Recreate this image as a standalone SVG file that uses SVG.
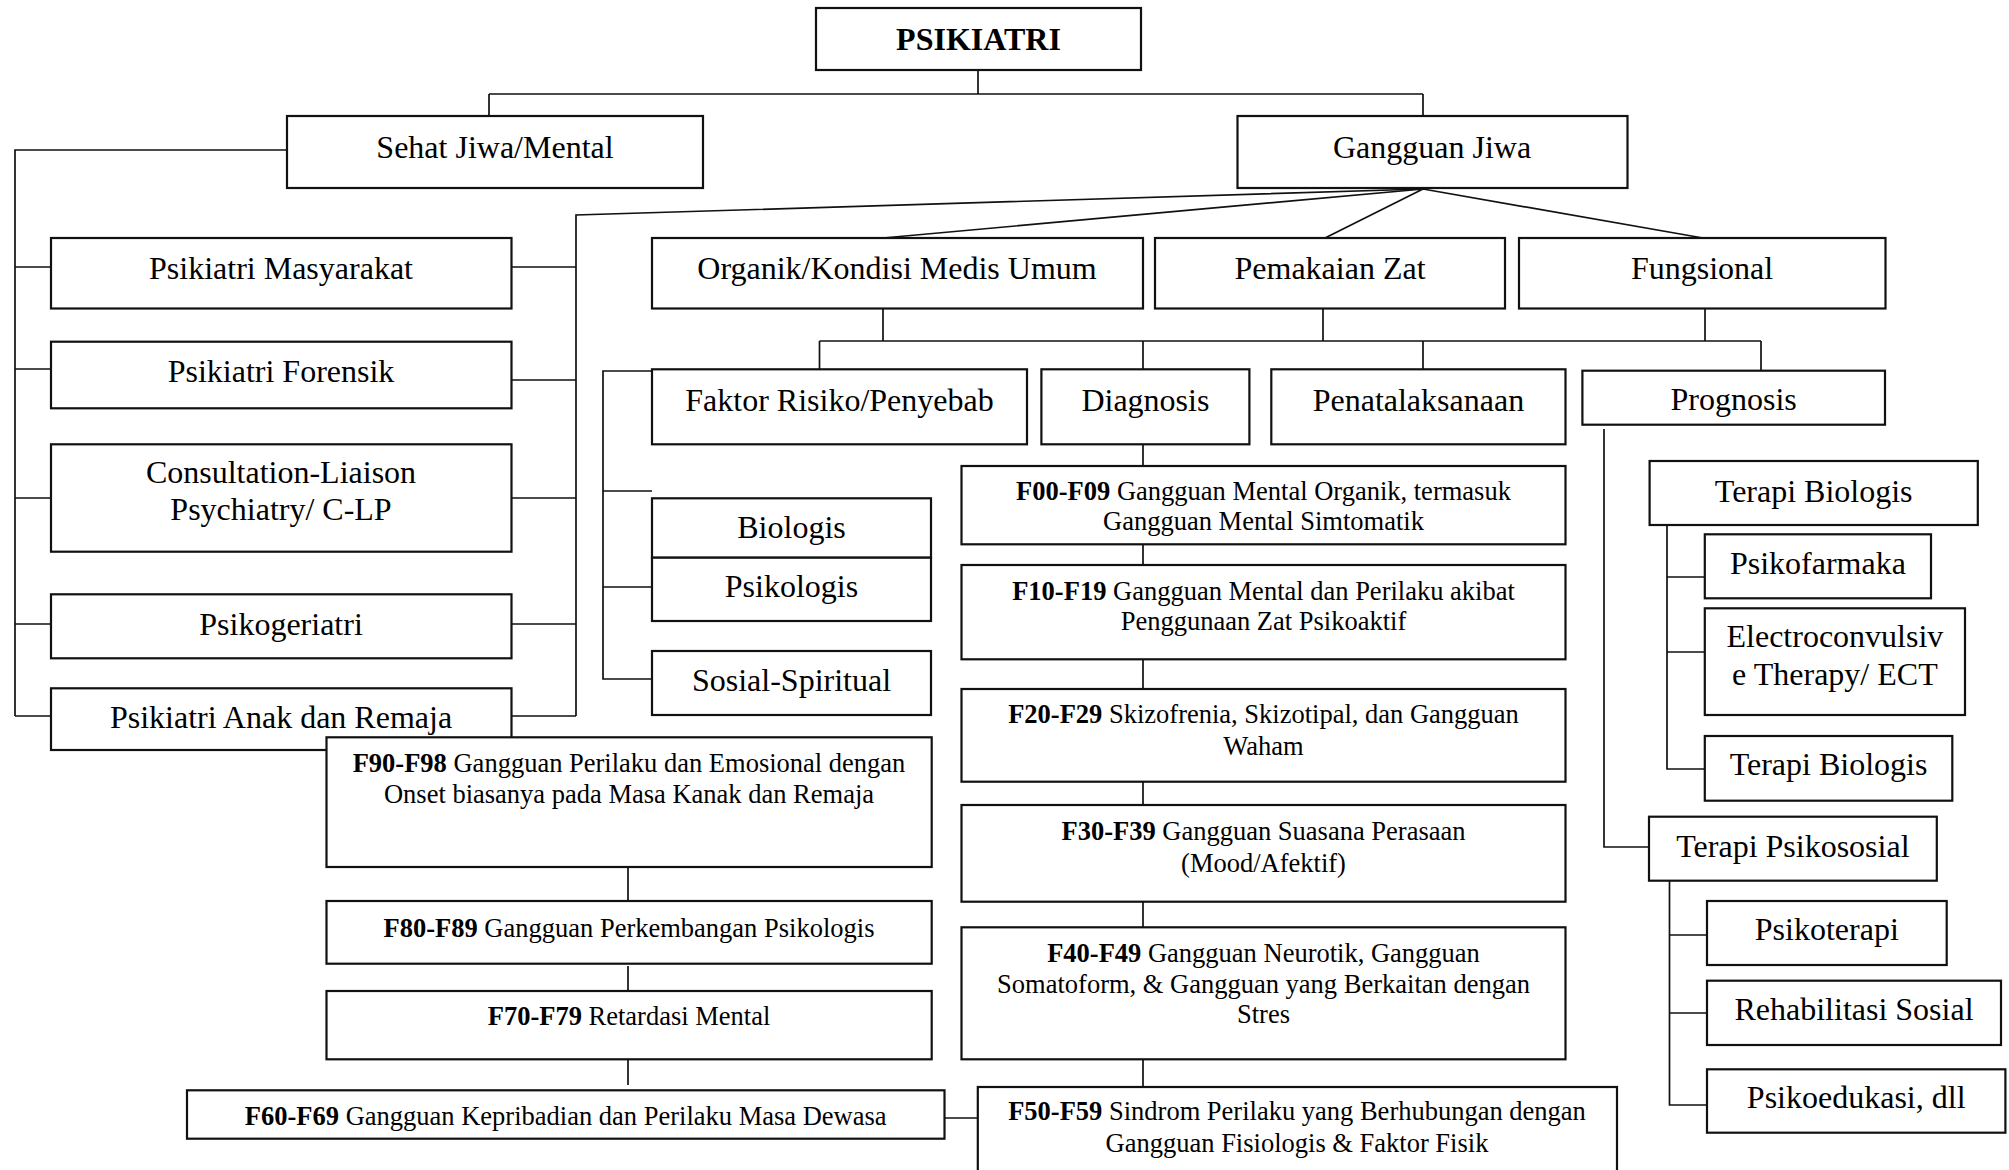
<svg xmlns="http://www.w3.org/2000/svg" width="2009" height="1170" viewBox="0 0 2009 1170">
<style>
.b{fill:#fff;stroke:#111;stroke-width:2.2}
.c{fill:none;stroke:#111;stroke-width:1.7}
.t{font-family:"Liberation Serif","Times New Roman",serif;font-size:32px;fill:#000;text-anchor:middle}
.f{font-family:"Liberation Serif","Times New Roman",serif;font-size:26.5px;fill:#000;text-anchor:middle}
.bd{font-weight:bold}
</style>
<rect width="2009" height="1170" fill="#fff"/>
<g id="connectors">
<path class="c" d="M978 71V94M489 94H1423M489 94V116M1423 94V116"/>
<path class="c" d="M287 150H15V716M15 267H51M15 369H51M15 498H51M15 624H51M15 716H51"/>
<path class="c" d="M511 267H576M511 380H576M511 498H576M511 624H576M511 716H576M576 716V215L1423 189"/>
<path class="c" d="M883 238L1423 189M1325 238L1423 189M1703 238L1423 189"/>
<path class="c" d="M883 308V341M1323 308V341M1705 308V341M819.5 341H1761M819.5 341V369M1143 341V369M1423 341V369M1761 341V371"/>
<path class="c" d="M652 371H603V679H652M603 491H652M603 587H652"/>
<path class="c" d="M1143 444V466M1143 544V565M1143 659V689M1143 782V805M1143 902V927M1143 1059V1087"/>
<path class="c" d="M628 867V901M628 966V991M628 1059V1085M944 1118H978"/>
<path class="c" d="M1604 429V847H1649"/>
<path class="c" d="M1667 525V769H1705M1667 577H1705M1667 652H1705"/>
<path class="c" d="M1669.5 881V1105H1707M1669.5 935H1707M1669.5 1013H1707"/>
</g>
<g id="psikiatri"><rect class="b" x="816" y="8" width="325" height="62"/><text class="t bd" x="978.5" y="50">PSIKIATRI</text></g>
<g id="sehat"><rect class="b" x="287" y="116" width="416" height="72"/><text class="t" x="495" y="158">Sehat Jiwa/Mental</text></g>
<g id="gangguan"><rect class="b" x="1237.5" y="116" width="390" height="72"/><text class="t" x="1432" y="158">Gangguan Jiwa</text></g>
<g id="masyarakat"><rect class="b" x="51" y="238" width="460.5" height="70.5"/><text class="t" x="281" y="279">Psikiatri Masyarakat</text></g>
<g id="forensik"><rect class="b" x="51" y="341.7" width="460.5" height="66.6"/><text class="t" x="281" y="382">Psikiatri Forensik</text></g>
<g id="clp"><rect class="b" x="51" y="444.3" width="460.5" height="107.4"/><text class="t" x="281" y="483">Consultation-Liaison</text><text class="t" x="281" y="520">Psychiatry/ C-LP</text></g>
<g id="psikogeriatri"><rect class="b" x="51" y="594.3" width="460.5" height="64"/><text class="t" x="281" y="635">Psikogeriatri</text></g>
<g id="anak"><rect class="b" x="51" y="688.3" width="460.5" height="61.7"/><text class="t" x="281" y="728">Psikiatri Anak dan Remaja</text></g>
<g id="organik"><rect class="b" x="652" y="238" width="491" height="70.5"/><text class="t" x="897" y="279">Organik/Kondisi Medis Umum</text></g>
<g id="pemakaian"><rect class="b" x="1155" y="238" width="350" height="70.5"/><text class="t" x="1330" y="279">Pemakaian Zat</text></g>
<g id="fungsional"><rect class="b" x="1519" y="238" width="366.5" height="70.5"/><text class="t" x="1702" y="279">Fungsional</text></g>
<g id="faktor"><rect class="b" x="652" y="369.3" width="375" height="75"/><text class="t" x="839.5" y="411">Faktor Risiko/Penyebab</text></g>
<g id="diagnosis"><rect class="b" x="1041.4" y="369.3" width="208" height="75"/><text class="t" x="1145.4" y="411">Diagnosis</text></g>
<g id="penatalaksanaan"><rect class="b" x="1271.3" y="369.3" width="294.2" height="75"/><text class="t" x="1418.4" y="411">Penatalaksanaan</text></g>
<g id="prognosis"><rect class="b" x="1582.4" y="370.7" width="302.6" height="54"/><text class="t" x="1733.7" y="410">Prognosis</text></g>
<g id="biologis"><rect class="b" x="652" y="498.3" width="279" height="59.4"/><text class="t" x="791.5" y="538">Biologis</text></g>
<g id="psikologis"><rect class="b" x="652" y="557.7" width="279" height="63.3"/><text class="t" x="791.5" y="597">Psikologis</text></g>
<g id="sosial"><rect class="b" x="652" y="651" width="279" height="64"/><text class="t" x="791.5" y="691">Sosial-Spiritual</text></g>
<g id="f00"><rect class="b" x="961.5" y="466" width="604" height="78.3"/><text class="f" x="1263.5" y="500"><tspan class="bd">F00-F09</tspan> Gangguan Mental Organik, termasuk</text><text class="f" x="1263.5" y="530">Gangguan Mental Simtomatik</text></g>
<g id="f10"><rect class="b" x="961.5" y="565" width="604" height="94.3"/><text class="f" x="1263.5" y="600"><tspan class="bd">F10-F19</tspan> Gangguan Mental dan Perilaku akibat</text><text class="f" x="1263.5" y="630">Penggunaan Zat Psikoaktif</text></g>
<g id="f20"><rect class="b" x="961.5" y="689" width="604" height="92.7"/><text class="f" x="1263.5" y="723"><tspan class="bd">F20-F29</tspan> Skizofrenia, Skizotipal, dan Gangguan</text><text class="f" x="1263.5" y="755">Waham</text></g>
<g id="f30"><rect class="b" x="961.5" y="805" width="604" height="96.7"/><text class="f" x="1263.5" y="840"><tspan class="bd">F30-F39</tspan> Gangguan Suasana Perasaan</text><text class="f" x="1263.5" y="872">(Mood/Afektif)</text></g>
<g id="f40"><rect class="b" x="961.5" y="927.3" width="604" height="132"/><text class="f" x="1263.5" y="962"><tspan class="bd">F40-F49</tspan> Gangguan Neurotik, Gangguan</text><text class="f" x="1263.5" y="993">Somatoform, &amp; Gangguan yang Berkaitan dengan</text><text class="f" x="1263.5" y="1023">Stres</text></g>
<g id="f50"><rect class="b" x="977.8" y="1087" width="639.2" height="90"/><text class="f" x="1297" y="1120"><tspan class="bd">F50-F59</tspan> Sindrom Perilaku yang Berhubungan dengan</text><text class="f" x="1297" y="1152">Gangguan Fisiologis &amp; Faktor Fisik</text></g>
<g id="f90"><rect class="b" x="326.5" y="737.3" width="605.2" height="129.7"/><text class="f" x="629" y="772"><tspan class="bd">F90-F98</tspan> Gangguan Perilaku dan Emosional dengan</text><text class="f" x="629" y="803">Onset biasanya pada Masa Kanak dan Remaja</text></g>
<g id="f80"><rect class="b" x="326.5" y="901" width="605.2" height="62.7"/><text class="f" x="629" y="937"><tspan class="bd">F80-F89</tspan> Gangguan Perkembangan Psikologis</text></g>
<g id="f70"><rect class="b" x="326.5" y="991" width="605.2" height="68.3"/><text class="f" x="629" y="1025"><tspan class="bd">F70-F79</tspan> Retardasi Mental</text></g>
<g id="f60"><rect class="b" x="187" y="1090.3" width="757.5" height="48.4"/><text class="f" x="565.7" y="1125"><tspan class="bd">F60-F69</tspan> Gangguan Kepribadian dan Perilaku Masa Dewasa</text></g>
<g id="terapibio"><rect class="b" x="1649.6" y="461" width="328.2" height="64"/><text class="t" x="1813.7" y="502">Terapi Biologis</text></g>
<g id="psikofarmaka"><rect class="b" x="1704.8" y="534.3" width="226.2" height="64"/><text class="t" x="1817.9" y="574">Psikofarmaka</text></g>
<g id="ect"><rect class="b" x="1704.8" y="608.3" width="260.2" height="106.7"/><text class="t" x="1834.9" y="647">Electroconvulsiv</text><text class="t" x="1834.9" y="685">e Therapy/ ECT</text></g>
<g id="terapibio2"><rect class="b" x="1704.8" y="736" width="247.5" height="64.7"/><text class="t" x="1828.5" y="775">Terapi Biologis</text></g>
<g id="psikososial"><rect class="b" x="1649" y="816.7" width="287.8" height="64"/><text class="t" x="1792.9" y="857">Terapi Psikososial</text></g>
<g id="psikoterapi"><rect class="b" x="1707" y="901" width="239.7" height="64"/><text class="t" x="1826.8" y="940">Psikoterapi</text></g>
<g id="rehabilitasi"><rect class="b" x="1707" y="980.7" width="294" height="64.3"/><text class="t" x="1854" y="1020">Rehabilitasi Sosial</text></g>
<g id="psikoedukasi"><rect class="b" x="1707" y="1069.3" width="298.4" height="63.4"/><text class="t" x="1856.2" y="1108">Psikoedukasi, dll</text></g>
</svg>
